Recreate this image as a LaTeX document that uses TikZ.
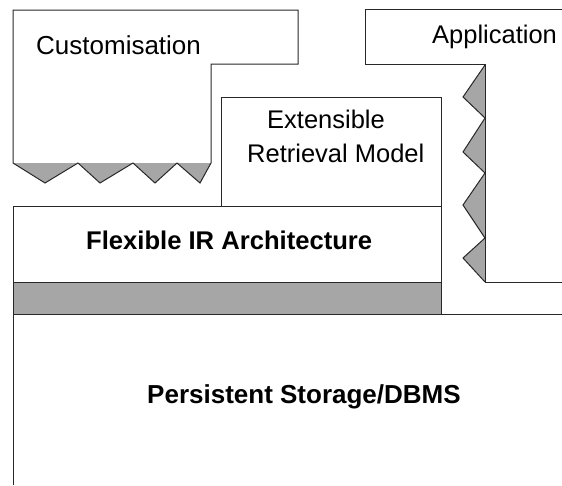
\documentclass[tikz,border=0pt]{standalone}
\usepackage{fontspec}
\setmainfont{Liberation Sans}
\definecolor{bandgray}{RGB}{166,166,166}
\definecolor{edge}{RGB}{40,40,40}
\tikzset{
  outline/.style={draw=edge, line width=1pt, line join=miter},
  band/.style={fill=bandgray},
  lbl/.style={inner sep=0pt, anchor=base west, font=\fontsize{25.5}{30}\selectfont},
  blbl/.style={lbl, font=\fontsize{25.6}{30}\selectfont\bfseries},
}
\begin{document}
\begin{tikzpicture}[x=1pt, y=-1pt]
\useasboundingbox (0,0) rectangle (562,485);
\fill[white] (0,0) rectangle (562,485);
% Customisation
\fill[band] (13,163) -- (45,183) -- (78,163) -- (100,183) -- (133,163) -- (155,183) -- (177,163) -- (200,183) -- (211,163) -- cycle;
\draw[outline] (211,163) -- (211,64) -- (298,64) -- (298,10) -- (13,10) -- (13,163)
  -- (45,183) -- (78,163) -- (100,183) -- (133,163) -- (155,183) -- (177,163) -- (200,183) -- (211,163);
% Application
\fill[band] (485,65) -- (463,97) -- (485,118) -- (463,152) -- (485,173) -- (463,205) -- (485,238) -- (463,258) -- (485,282) -- cycle;
\draw[outline] (562,9) -- (365,9) -- (365,64) -- (485,64) -- (485,282) -- (562,282);
\draw[outline] (485,65) -- (463,97) -- (485,118) -- (463,152) -- (485,173) -- (463,205) -- (485,238) -- (463,258) -- (485,282);
% Extensible Retrieval Model
\draw[outline] (221,97) rectangle (441,206);
% Flexible IR Architecture
\fill[band] (13,282) rectangle (441,314);
\draw[outline] (13,206) rectangle (441,314);
\draw[outline] (13,282) -- (441,282);
% Persistent storage
\draw[outline] (562,314) -- (13,314) -- (13,485);
% labels
\node[lbl, font=\fontsize{26}{30}\selectfont] (cust) at (36,54) {Customisation};
\node[lbl] (app) at (432,43) {Application};
\node[lbl] (ext1) at (267,128) {Extensible};
\node[lbl] (ext2) at (247,162) {Retrieval Model};
\node[blbl] (flex) at (86,249) {Flexible IR Architecture};
\node[blbl, font=\fontsize{26}{30}\selectfont\bfseries] (pers) at (147,403) {Persistent Storage/DBMS};
\end{tikzpicture}
\end{document}
